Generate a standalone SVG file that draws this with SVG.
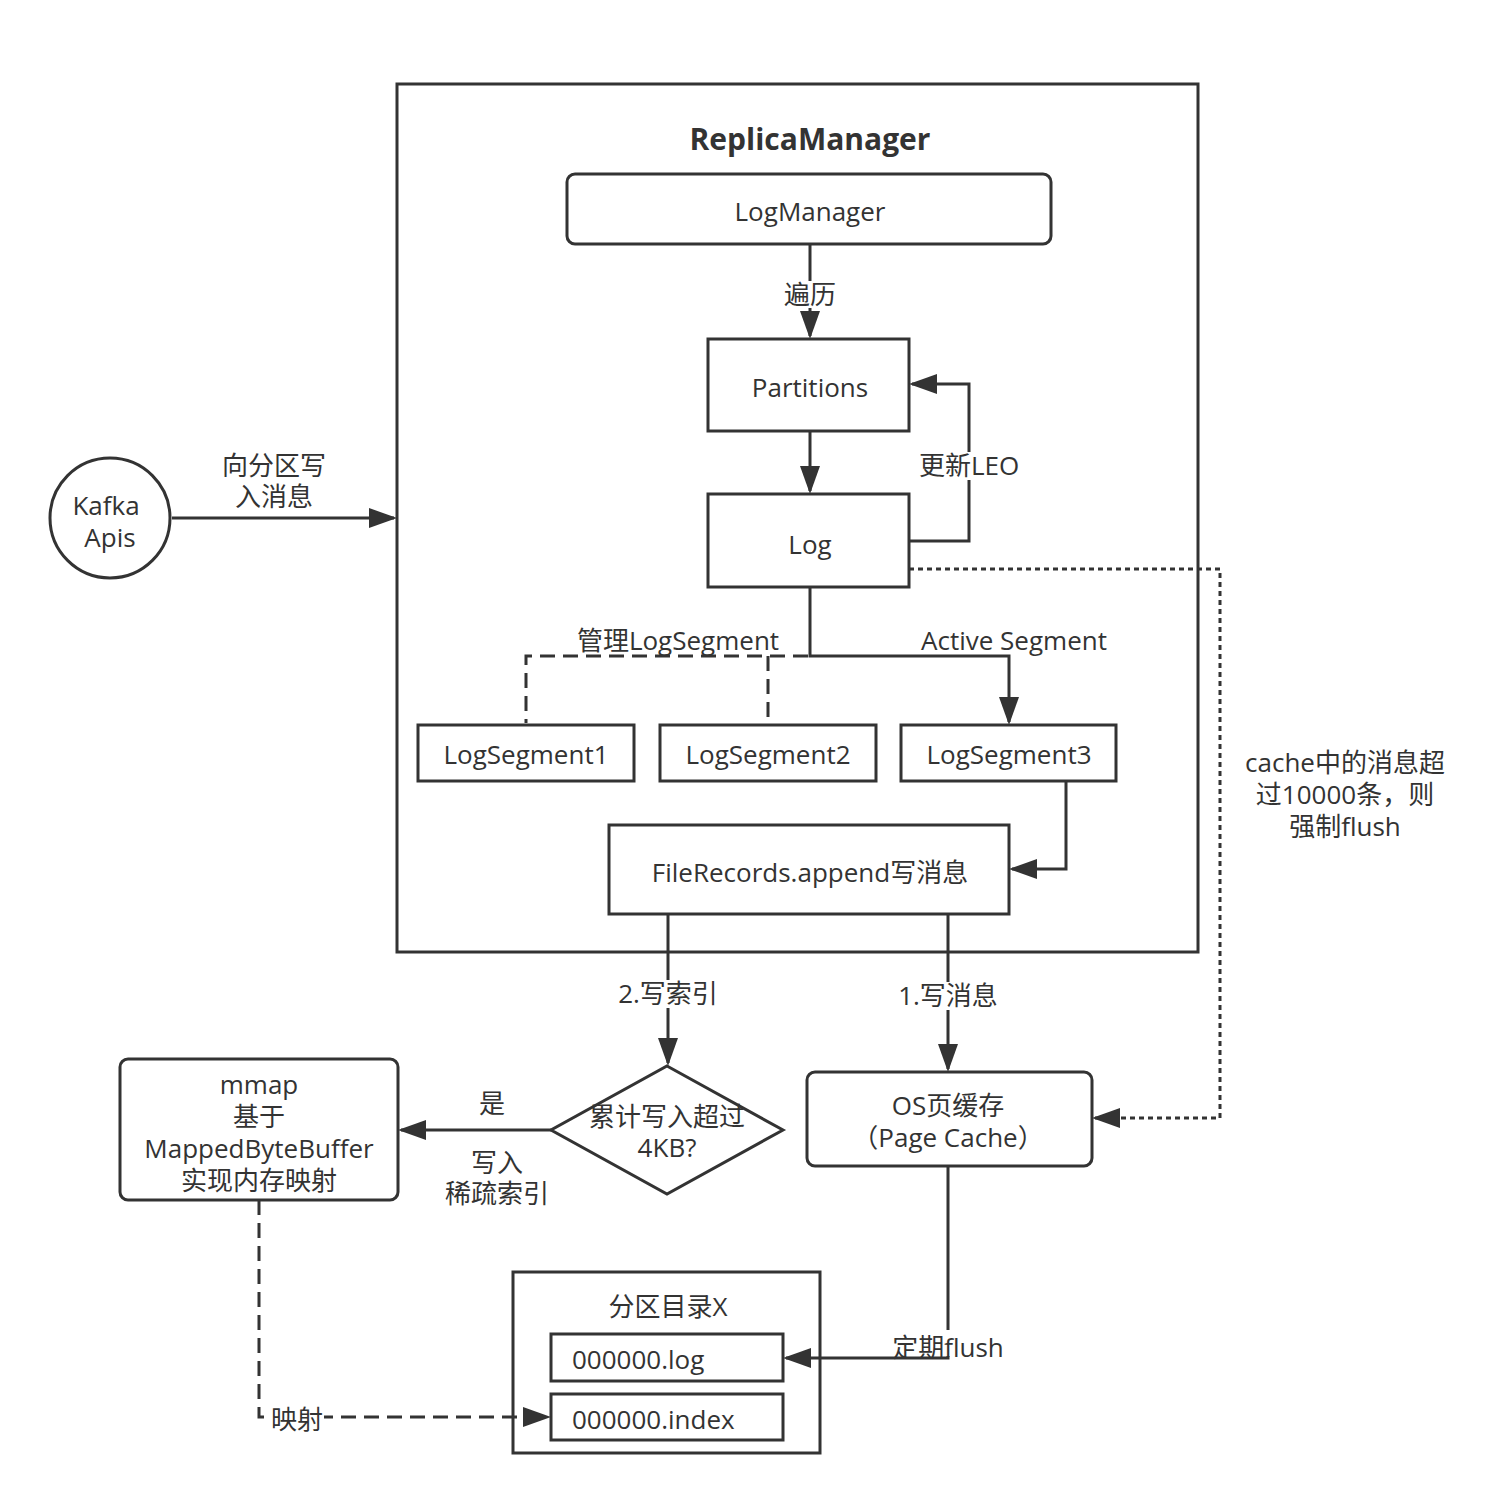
<svg xmlns="http://www.w3.org/2000/svg" width="1499" height="1503" viewBox="0 0 1499 1503">
<defs>
<style>
.t{font-family:"Open Sans","Noto Sans CJK SC",sans-serif;font-size:26px;fill:#333;text-anchor:middle}
.tl{text-anchor:start}
.b{font-weight:bold;font-size:30px}
.box{fill:#fff;stroke:#333;stroke-width:3}
.ln{fill:none;stroke:#333;stroke-width:3}
.dash{stroke-dasharray:15 8}
.dot{stroke-dasharray:5 4}
.bg{fill:#fff;stroke:none}
</style>
<marker id="arr" viewBox="0 0 28 20" refX="25" refY="10" markerWidth="28" markerHeight="20" markerUnits="userSpaceOnUse" orient="auto">
<path d="M0,0 L28,10 L0,20 z" fill="#333"/>
</marker>
</defs>
<rect width="1499" height="1503" fill="#fff"/>

<g id="replica-manager">
<rect class="box" x="397" y="84" width="801" height="868"/>
<text class="t b" x="810" y="150">ReplicaManager</text>
</g>

<g id="kafka-apis">
<circle class="box" cx="110" cy="518" r="60"/>
<text class="t"><tspan x="106" y="515">Kafka</tspan><tspan x="110" y="547">Apis</tspan></text>
</g>

<g id="log-manager">
<rect class="box" x="567" y="174" width="484" height="70" rx="8"/>
<text class="t" x="810" y="221">LogManager</text>
</g>

<g id="partitions">
<rect class="box" x="708" y="339" width="201" height="92"/>
<text class="t" x="810" y="397">Partitions</text>
</g>

<g id="log">
<rect class="box" x="708" y="494" width="201" height="93"/>
<text class="t" x="810" y="554">Log</text>
</g>

<g id="log-segment-1">
<rect class="box" x="418" y="725" width="216" height="56"/>
<text class="t" x="526" y="764">LogSegment1</text>
</g>
<g id="log-segment-2">
<rect class="box" x="660" y="725" width="216" height="56"/>
<text class="t" x="768" y="764">LogSegment2</text>
</g>
<g id="log-segment-3">
<rect class="box" x="901" y="725" width="215" height="56"/>
<text class="t" x="1009" y="764">LogSegment3</text>
</g>

<g id="file-records">
<rect class="box" x="609" y="825" width="400" height="89"/>
<text class="t" x="810" y="882">FileRecords.append写消息</text>
</g>

<g id="decision">
<polygon class="box" points="667,1066 783,1130 667,1194 551,1130"/>
<text class="t"><tspan x="667" y="1126">累计写入超过</tspan><tspan x="667" y="1157">4KB?</tspan></text>
</g>

<g id="mmap">
<rect class="box" x="120" y="1059" width="278" height="141" rx="8"/>
<text class="t"><tspan x="259" y="1094">mmap</tspan><tspan x="259" y="1126">基于</tspan><tspan x="259" y="1158">MappedByteBuffer</tspan><tspan x="259" y="1190">实现内存映射</tspan></text>
</g>

<g id="os-page-cache">
<rect class="box" x="807" y="1072" width="285" height="94" rx="8"/>
<text class="t"><tspan x="948" y="1115">OS页缓存</tspan><tspan x="948" y="1147">（Page Cache）</tspan></text>
</g>

<g id="partition-dir">
<rect class="box" x="513" y="1272" width="307" height="181"/>
<text class="t" x="668" y="1316">分区目录X</text>
</g>
<g id="log-file">
<rect class="box" x="551" y="1334" width="232" height="47"/>
<text class="t tl" x="572" y="1369">000000.log</text>
</g>
<g id="index-file">
<rect class="box" x="551" y="1394" width="232" height="46"/>
<text class="t tl" x="572" y="1429">000000.index</text>
</g>

<g id="connectors">
<path class="ln" d="M172,518 L394,518" marker-end="url(#arr)"/>
<path class="ln" d="M810,244 L810,336" marker-end="url(#arr)"/>
<path class="ln" d="M810,431 L810,491" marker-end="url(#arr)"/>
<path class="ln" d="M909,541 L969,541 L969,384 L912,384" marker-end="url(#arr)"/>
<path class="ln" d="M810,587 L810,656 L1009,656 L1009,722" marker-end="url(#arr)"/>
<path class="ln dash" d="M808,656 L526,656 L526,723"/>
<path class="ln dash" d="M768,656 L768,720"/>
<path class="ln" d="M1066,781 L1066,869 L1012,869" marker-end="url(#arr)"/>
<path class="ln" d="M668,914 L668,1063" marker-end="url(#arr)"/>
<path class="ln" d="M948,914 L948,1069" marker-end="url(#arr)"/>
<path class="ln" d="M551,1130 L401,1130" marker-end="url(#arr)"/>
<path class="ln dot" d="M909,569 L1220,569 L1220,1118 L1095,1118" marker-end="url(#arr)"/>
<path class="ln" d="M948,1166 L948,1358 L786,1358" marker-end="url(#arr)"/>
<path class="ln dash" d="M259,1200 L259,1417 L548,1417" marker-end="url(#arr)"/>

<rect class="bg" x="782" y="281" width="56" height="27"/>
<text class="t" x="810" y="304">遍历</text>
<rect class="bg" x="918" y="452" width="102" height="28"/>
<text class="t" x="969" y="475">更新LEO</text>
<text class="t"><tspan x="274" y="475">向分区写</tspan><tspan x="274" y="506">入消息</tspan></text>
<text class="t" x="678" y="650">管理LogSegment</text>
<text class="t" x="1014" y="650">Active Segment</text>
<text class="t"><tspan x="1345" y="772">cache中的消息超</tspan><tspan x="1345" y="804">过10000条，则</tspan><tspan x="1345" y="836">强制flush</tspan></text>
<rect class="bg" x="616" y="980" width="104" height="28"/>
<text class="t" x="668" y="1003">2.写索引</text>
<rect class="bg" x="896" y="982" width="104" height="28"/>
<text class="t" x="948" y="1005">1.写消息</text>
<text class="t" x="492" y="1113">是</text>
<text class="t"><tspan x="497" y="1172">写入</tspan><tspan x="497" y="1203">稀疏索引</tspan></text>
<rect class="bg" x="892" y="1330" width="114" height="26"/>
<text class="t" x="948" y="1357">定期flush</text>
<rect class="bg" x="268" y="1404" width="56" height="28"/>
<text class="t" x="297" y="1429">映射</text>
</g>
</svg>
